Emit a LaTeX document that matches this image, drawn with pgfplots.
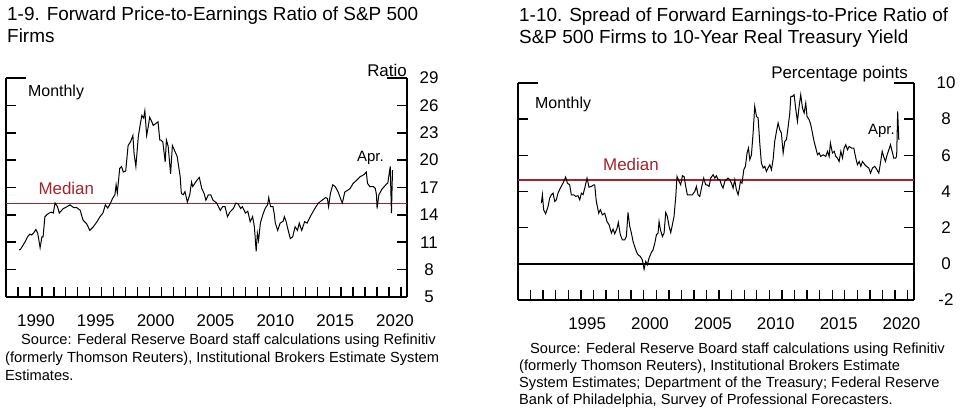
\documentclass[border=0pt]{standalone}
\usepackage{pgfplots}
\pgfplotsset{compat=1.18}
\usepackage{fontspec}
\setmainfont{Liberation Sans}
\definecolor{medred}{RGB}{165,35,45}

\pgfplotsset{fedchart/.style={
  scale only axis,
  separate axis lines,
  x axis line style={draw=none},
  y axis line style={line width=1.4bp},
  tick align=inside,
  xtick pos=left, ytick pos=both,
  major tick length=10bp, minor tick length=10bp,
  tick style={line width=1.3bp, black},
  yticklabel pos=right,
  tick label style={font=\fontsize{17}{20}\selectfont},
  xticklabel style={anchor=center, yshift=-23.5bp},
  clip=false,
}}

\begin{document}
\begin{tikzpicture}
\path[use as bounding box] (0bp,0bp) rectangle (960bp,409bp);

% ---- 1-9 forward P/E ----
\begin{axis}[fedchart, name=pe,
  at={(6bp,112bp)}, anchor=south west,
  width=401bp, height=219bp,
  xmin=1988, xmax=2021.5, ymin=5, ymax=29,
  xtick={1990,1995,...,2020}, minor xtick={1989,...,2021},
  xticklabels={1990,1995,2000,2005,2010,2015,2020},
  xticklabel style={xshift=6bp},
  ytick={5,8,...,29},
  yticklabels={5,8,11,14,17,20,23,26,29},
  yticklabel style={anchor=center, xshift=22bp},
]
\addplot[medred, line width=1.3bp] coordinates {(1988,15.27)(2021.5,15.27)};
\addplot[black, line width=1bp] coordinates {
(1989.1,10.15)(1989.2,10.2)(1989.6,11.06)(1989.8,11.6)(1990.0,11.9)(1990.15,11.8)
(1990.3,12.0)(1990.5,12.4)(1990.65,12.0)(1990.85,10.4)(1991.0,11.6)(1991.1,11.6)
(1991.25,13.8)(1991.4,14.0)(1991.6,14.2)(1991.8,14.3)(1991.95,14.2)(1992.1,15.3)
(1992.3,14.9)(1992.45,14.2)(1992.65,14.5)(1992.8,14.7)(1993.1,14.9)(1993.35,15.1)
(1993.65,14.8)(1993.9,14.8)(1994.2,14.5)(1994.35,13.8)(1994.45,13.4)(1994.75,13.0)
(1995.0,12.3)(1995.3,12.7)(1995.6,13.25)(1995.85,13.8)(1996.1,14.2)(1996.3,15.1)
(1996.5,14.75)(1996.7,15.2)(1996.9,15.8)(1997.1,16.2)(1997.2,17.3)(1997.3,16.4)
(1997.5,19.1)(1997.65,19.3)(1997.8,18.7)(1998.0,18.8)(1998.2,21.6)(1998.4,22.0)
(1998.6,22.7)(1998.7,20.7)(1998.85,19.3)(1999.05,22.55)(1999.2,23.8)(1999.35,24.9)
(1999.5,24.6)(1999.6,25.4)(1999.75,22.7)(1999.9,23.8)(2000.0,24.7)(2000.15,24.3)
(2000.3,23.8)(2000.5,24.0)(2000.7,24.2)(2000.85,22.2)(2000.95,22.2)(2001.1,22.0)
(2001.3,19.8)(2001.4,22.2)(2001.55,21.5)(2001.75,18.5)(2001.9,21.6)(2002.1,21.0)
(2002.3,20.4)(2002.55,18.2)(2002.65,16.35)(2002.8,16.2)(2002.95,16.55)(2003.15,15.4)
(2003.35,16.2)(2003.5,17.6)(2003.6,17.1)(2003.95,17.8)(2004.15,18.1)(2004.35,16.9)
(2004.55,16.35)(2004.7,15.6)(2004.9,16.2)(2005.1,16.2)(2005.3,15.6)(2005.6,15.3)
(2005.9,14.5)(2006.1,14.9)(2006.3,14.9)(2006.5,13.8)(2006.7,14.3)(2007.0,14.7)
(2007.2,15.3)(2007.4,15.2)(2007.6,14.7)(2007.75,14.9)(2008.0,14.2)(2008.2,14.4)
(2008.4,13.25)(2008.6,13.8)(2008.75,12.7)(2008.9,10.0)(2009.0,12.0)(2009.1,11.2)
(2009.25,13.1)(2009.45,14.0)(2009.65,14.7)(2009.85,15.1)(2009.95,15.9)(2010.1,14.9)
(2010.3,14.9)(2010.4,14.2)(2010.5,13.1)(2010.7,12.3)(2010.9,13.1)(2011.15,13.3)
(2011.25,13.8)(2011.4,13.3)(2011.5,12.7)(2011.75,11.4)(2011.95,11.6)(2012.15,12.7)
(2012.35,12.3)(2012.5,13.1)(2012.7,12.3)(2012.95,13.25)(2013.15,13.1)(2013.5,14.0)
(2013.8,14.7)(2014.1,15.3)(2014.4,15.6)(2014.7,15.9)(2014.85,15.8)(2014.95,14.9)
(2015.1,16.35)(2015.3,17.3)(2015.5,17.1)(2015.75,16.5)(2016.0,15.6)(2016.1,15.3)
(2016.3,16.5)(2016.55,16.7)(2016.75,16.9)(2017.0,17.45)(2017.3,17.8)(2017.6,18.2)
(2017.9,18.4)(2018.1,18.7)(2018.2,17.45)(2018.4,17.1)(2018.7,17.1)(2018.85,16.9)
(2018.95,16.2)(2019.0,14.7)(2019.15,16.2)(2019.4,16.8)(2019.6,17.1)(2019.8,17.4)
(2019.9,17.5)(2020.0,18.4)(2020.1,19.3)(2020.2,14.2)(2020.29,18.9)
};
\end{axis}
\draw[line width=1.4bp] (pe.south west) -- (pe.south east);
\draw[line width=1.4bp] (pe.north west) -- ++(20bp,0bp);
\draw[line width=1.4bp] (pe.north east) -- ++(-20bp,0bp);
% inward y ticks, one every 3 units (219bp / 8)
\foreach \k in {1,...,7} {
  \fill ([yshift=\k*27.375bp-0.8bp]pe.south west) rectangle ++(10bp,1.6bp);
  \fill ([yshift=\k*27.375bp-0.8bp]pe.south east) rectangle ++(-10bp,1.6bp);
}

% ---- 1-10 spread ----
\begin{axis}[fedchart, name=sp,
  at={(518bp,109bp)}, anchor=south west,
  width=396bp, height=217bp,
  xmin=1990, xmax=2021.5, ymin=-2, ymax=10,
  xtick={1995,2000,...,2020}, minor xtick={1991,...,2021},
  xticklabels={1995,2000,2005,2010,2015,2020},
  xticklabel style={xshift=6.3bp},
  ytick={-2,0,...,10},
  yticklabels={-2,0,2,4,6,8,10},
  yticklabel style={anchor=center, xshift=32bp},
]
\addplot[medred, line width=1.3bp] coordinates {(1990,4.64)(2021.5,4.64)};
\addplot[black, line width=1.6bp] coordinates {(1990,0)(2021.5,0)};
\addplot[black, line width=1bp] coordinates {
(1991.86,3.36)(1991.94,3.82)(1992.04,2.99)(1992.2,2.77)(1992.39,3.17)(1992.52,3.63)
(1992.65,3.82)(1992.79,3.91)(1992.92,3.45)(1993.05,3.54)(1993.18,3.91)(1993.37,4.19)
(1993.58,4.46)(1993.79,4.8)(1993.93,4.46)(1994.11,4.37)(1994.24,3.82)(1994.43,3.82)
(1994.59,3.73)(1994.77,3.77)(1994.91,3.54)(1995.04,3.91)(1995.17,3.82)(1995.31,4.19)
(1995.49,4.74)(1995.65,4.24)(1995.84,4.28)(1996.02,4.37)(1996.1,4.37)(1996.23,3.45)
(1996.42,2.8)(1996.55,2.99)(1996.71,2.71)(1996.9,2.8)(1997.08,2.34)(1997.24,2.16)
(1997.43,1.70)(1997.56,1.92)(1997.69,1.66)(1997.88,1.97)(1997.98,2.29)(1998.14,1.61)
(1998.3,1.33)(1998.49,1.33)(1998.62,1.51)(1998.75,2.84)(1998.89,2.07)(1999.02,1.70)
(1999.15,1.24)(1999.28,0.96)(1999.42,0.68)(1999.55,0.5)(1999.73,0.41)(1999.89,0.22)
(2000.03,-0.3)(2000.16,0.13)(2000.29,-0.05)(2000.42,0.31)(2000.61,0.63)(2000.74,0.77)
(2000.88,1.14)(2001.01,1.61)(2001.14,1.70)(2001.22,2.34)(2001.33,1.88)(2001.49,1.51)
(2001.62,1.70)(2001.75,2.84)(2001.88,2.62)(2002.02,2.07)(2002.15,1.73)(2002.28,2.16)
(2002.41,2.62)(2002.55,3.73)(2002.65,4.83)(2002.81,4.56)(2002.94,4.37)(2003.08,4.87)
(2003.21,4.83)(2003.34,4.28)(2003.47,3.82)(2003.66,3.82)(2003.87,3.82)(2004.06,4.0)
(2004.19,4.28)(2004.32,3.82)(2004.46,3.73)(2004.62,4.28)(2004.77,4.74)(2004.93,4.37)
(2005.04,4.37)(2005.2,4.28)(2005.33,4.74)(2005.52,4.93)(2005.65,4.74)(2005.78,4.87)
(2005.92,4.65)(2006.05,4.65)(2006.18,4.37)(2006.31,4.19)(2006.45,4.56)(2006.58,4.65)
(2006.71,4.74)(2006.84,4.65)(2006.98,4.46)(2007.11,4.19)(2007.24,4.65)(2007.37,4.1)
(2007.51,3.82)(2007.59,4.1)(2007.69,4.56)(2007.82,4.46)(2007.96,5.2)(2008.09,5.39)
(2008.22,6.13)(2008.33,6.4)(2008.44,5.76)(2008.57,6.03)(2008.7,7.23)(2008.83,8.71)
(2008.97,8.15)(2009.1,8.06)(2009.23,6.68)(2009.36,5.57)(2009.5,5.3)(2009.63,5.39)
(2009.76,5.11)(2009.89,5.3)(2010.03,5.48)(2010.16,5.2)(2010.29,5.76)(2010.42,6.77)
(2010.56,7.32)(2010.69,7.79)(2010.82,7.42)(2010.95,7.23)(2011.09,6.13)(2011.22,6.77)
(2011.35,6.86)(2011.49,7.6)(2011.62,8.34)(2011.7,9.26)(2011.83,9.26)(2011.96,9.35)
(2012.1,8.52)(2012.23,7.88)(2012.36,8.71)(2012.49,9.35)(2012.63,8.62)(2012.76,8.34)
(2012.89,8.89)(2012.99,8.15)(2013.16,7.97)(2013.29,7.69)(2013.42,7.23)(2013.55,6.77)
(2013.69,6.4)(2013.82,6.03)(2013.95,6.13)(2014.08,5.94)(2014.27,6.03)(2014.48,5.94)
(2014.62,6.22)(2014.75,5.94)(2014.85,6.68)(2015.01,6.13)(2015.15,6.22)(2015.28,5.94)
(2015.41,5.85)(2015.54,5.66)(2015.68,6.22)(2015.81,5.85)(2015.94,6.4)(2016.07,6.59)
(2016.21,6.31)(2016.34,6.49)(2016.53,6.4)(2016.71,6.4)(2016.87,5.85)(2017.0,5.48)
(2017.14,5.66)(2017.27,5.39)(2017.4,5.66)(2017.59,5.48)(2017.72,5.39)(2017.9,5.3)
(2018.04,5.02)(2018.2,5.3)(2018.38,5.39)(2018.52,5.24)(2018.7,5.02)(2018.83,5.57)
(2018.97,6.22)(2019.1,5.9)(2019.23,5.66)(2019.36,6.03)(2019.5,6.31)(2019.63,6.59)
(2019.76,6.22)(2019.89,5.85)(2020.04,5.85)(2020.12,5.95)(2020.2,8.43)(2020.29,6.86)
};
\end{axis}
\draw[line width=1.4bp] (sp.south west) -- (sp.south east);
\draw[line width=1.4bp] (sp.north west) -- ++(20bp,0bp);
\draw[line width=1.4bp] (sp.north east) -- ++(-20bp,0bp);
% inward y ticks, one every 2 points (217bp / 6)
\foreach \k in {1,...,5} {
  \fill ([yshift=\k*36.1667bp-0.8bp]sp.south west) rectangle ++(10bp,1.6bp);
  \fill ([yshift=\k*36.1667bp-0.8bp]sp.south east) rectangle ++(-10bp,1.6bp);
}

% ---- titles, units, notes ----
\begin{scope}[every node/.style={inner sep=0pt}]
\node[anchor=base west, font=\fontsize{19}{22}\selectfont] at (7bp,388bp) {1-9. Forward Price-to-Earnings Ratio of S\&P 500};
\node[anchor=base west, font=\fontsize{19}{22}\selectfont] at (7bp,366bp) {Firms};
\node[anchor=base west, font=\fontsize{19}{22}\selectfont] at (519bp,387bp) {1-10. Spread of Forward Earnings-to-Price Ratio of};
\node[anchor=base west, font=\fontsize{19}{22}\selectfont] at (519bp,365.5bp) {S\&P 500 Firms to 10-Year Real Treasury Yield};

\node[anchor=base east, font=\fontsize{17}{20}\selectfont] at (407bp,332.5bp) {Ratio};
\node[anchor=base east, font=\fontsize{17}{20}\selectfont] at (908bp,330.5bp) {Percentage points};

\node[anchor=base west, font=\fontsize{16}{20}\selectfont] at (28bp,312.3bp) {Monthly};
\node[anchor=base west, font=\fontsize{16}{20}\selectfont] at (535bp,300.7bp) {Monthly};
\node[anchor=base west, font=\fontsize{17}{20}\selectfont, text=medred] at (38.3bp,214bp) {Median};
\node[anchor=base west, font=\fontsize{17}{20}\selectfont, text=medred] at (603bp,238.3bp) {Median};
\node[anchor=base west, font=\fontsize{15}{20}\selectfont] at (357bp,247bp) {Apr.};
\node[anchor=base west, font=\fontsize{15}{20}\selectfont] at (868bp,274bp) {Apr.};

\begin{scope}[every node/.append style={anchor=base west, font=\fontsize{14.7}{17}\selectfont}]
\node at (21bp,64bp) {Source: Federal Reserve Board staff calculations using Refinitiv};
\node at (5bp,46.5bp) {(formerly Thomson Reuters), Institutional Brokers Estimate System};
\node at (5bp,29bp) {Estimates.};
\node at (530bp,55.7bp) {Source: Federal Reserve Board staff calculations using Refinitiv};
\node at (519bp,38.5bp) {(formerly Thomson Reuters), Institutional Brokers Estimate};
\node at (519bp,21.3bp) {System Estimates; Department of the Treasury; Federal Reserve};
\node at (519bp,4.5bp) {Bank of Philadelphia, Survey of Professional Forecasters.};
\end{scope}
\end{scope}
\end{tikzpicture}
\end{document}
